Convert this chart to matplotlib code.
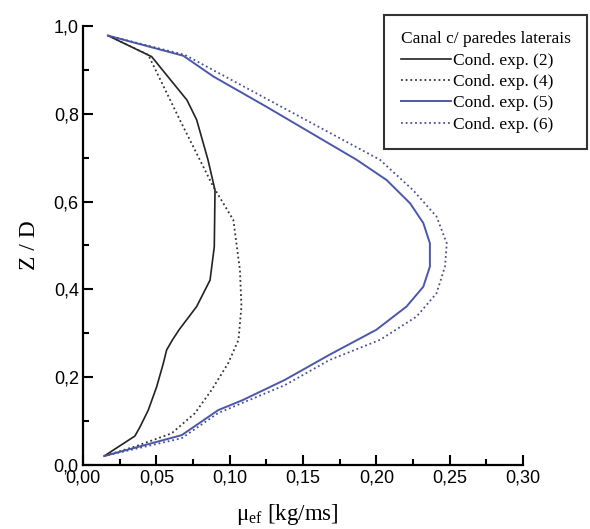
import matplotlib
matplotlib.use("Agg")
import matplotlib.pyplot as plt
from matplotlib.ticker import MultipleLocator, FuncFormatter

# Perfis de viscosidade efetiva ao longo da altura do canal
z_2 = [0.978, 0.930, 0.831, 0.786, 0.695, 0.626, 0.497, 0.421, 0.361, 0.308,
       0.285, 0.262, 0.232, 0.178, 0.125, 0.087, 0.066, 0.0205]
mu_2 = [0.017, 0.0468, 0.0709, 0.0775, 0.0852, 0.090, 0.0895, 0.0866, 0.0775, 0.0655,
        0.061, 0.057, 0.0548, 0.0502, 0.0445, 0.0389, 0.0354, 0.0145]

z_4 = [0.978, 0.934, 0.786, 0.634, 0.558, 0.444, 0.361, 0.285, 0.232,
       0.171, 0.118, 0.072, 0.042, 0.0205]
mu_4 = [0.017, 0.0445, 0.066, 0.0888, 0.1025, 0.107, 0.108, 0.106, 0.099,
        0.0877, 0.0763, 0.0604, 0.0354, 0.0145]

z_5 = [0.978, 0.932, 0.885, 0.816, 0.695, 0.649, 0.596, 0.551, 0.505, 0.452,
       0.406, 0.361, 0.308, 0.251, 0.194, 0.148, 0.125, 0.068, 0.0205]
mu_5 = [0.017, 0.0684, 0.0888, 0.125, 0.1866, 0.207, 0.223, 0.232, 0.2365, 0.2365,
        0.232, 0.2206, 0.200, 0.168, 0.1377, 0.109, 0.0922, 0.0673, 0.0145]

z_6 = [0.978, 0.934, 0.695, 0.626, 0.566, 0.505, 0.452, 0.391, 0.338,
       0.285, 0.239, 0.182, 0.118, 0.061, 0.0205]
mu_6 = [0.017, 0.0695, 0.2025, 0.225, 0.241, 0.248, 0.2468, 0.241, 0.2274,
        0.2025, 0.168, 0.1377, 0.092, 0.0673, 0.0145]

labels = ["Cond. exp. (2)", "Cond. exp. (4)", "Cond. exp. (5)", "Cond. exp. (6)"]

plt.rcParams["mathtext.fontset"] = "custom"
plt.rcParams["mathtext.rm"] = "Liberation Serif"
plt.rcParams["mathtext.it"] = "Liberation Serif"

fig = plt.figure(figsize=(5.9, 5.29), dpi=100)
ax = fig.add_axes([0.1407, 0.121, 0.7458, 0.830])

blue = "#4b57aa"
ax.plot(mu_2, z_2, color="#222222", lw=1.2, label=labels[0])
ax.plot(mu_4, z_4, color="#333333", lw=1.3, linestyle=(0, (1, 1.6)), label=labels[1])
ax.plot(mu_5, z_5, color=blue, lw=1.4, label=labels[2])
ax.plot(mu_6, z_6, color="#4a5090", lw=1.3, linestyle=(0, (1, 1.6)), label=labels[3])

ax.set_xlim(0, 0.30)
ax.set_ylim(0, 1.0)
for side in ("top", "right"):
    ax.spines[side].set_visible(False)
for side in ("left", "bottom"):
    ax.spines[side].set_linewidth(1.6)

ax.xaxis.set_major_locator(MultipleLocator(0.05))
ax.xaxis.set_minor_locator(MultipleLocator(0.025))
ax.yaxis.set_major_locator(MultipleLocator(0.2))
ax.yaxis.set_minor_locator(MultipleLocator(0.1))
ax.xaxis.set_major_formatter(FuncFormatter(lambda v, p: f"{v:.2f}".replace(".", ",")))
ax.yaxis.set_major_formatter(FuncFormatter(lambda v, p: f"{v:.1f}".replace(".", ",")))
ax.tick_params(which="major", direction="in", length=7, width=1.5, pad=3,
               labelsize=13)
ax.tick_params(which="minor", direction="in", length=4.5, width=1.5)
for lab in ax.get_xticklabels() + ax.get_yticklabels():
    lab.set_fontfamily("Liberation Sans")

ax.set_xlabel(r"$\mathrm{μ_{ef}}$ [kg/ms]", family="Liberation Serif", fontsize=16.5)
ax.xaxis.set_label_coords(0.464, -0.085)
ax.set_ylabel("Z / D", family="Liberation Serif", fontsize=17, labelpad=10)

leg = ax.legend(loc="upper right", bbox_to_anchor=(0.995, 0.972),
                bbox_transform=fig.transFigure, title="Canal c/ paredes laterais",
                prop={"family": "Liberation Serif", "size": 12.5},
                title_fontproperties={"family": "Liberation Serif", "size": 12.5},
                alignment="left", frameon=True, fancybox=False, edgecolor="black",
                handlelength=2.9, handletextpad=0.1, labelspacing=0.3,
                borderpad=0.95, borderaxespad=0)
leg.get_frame().set_linewidth(1.5)

fig.savefig("out.png", dpi=100)
